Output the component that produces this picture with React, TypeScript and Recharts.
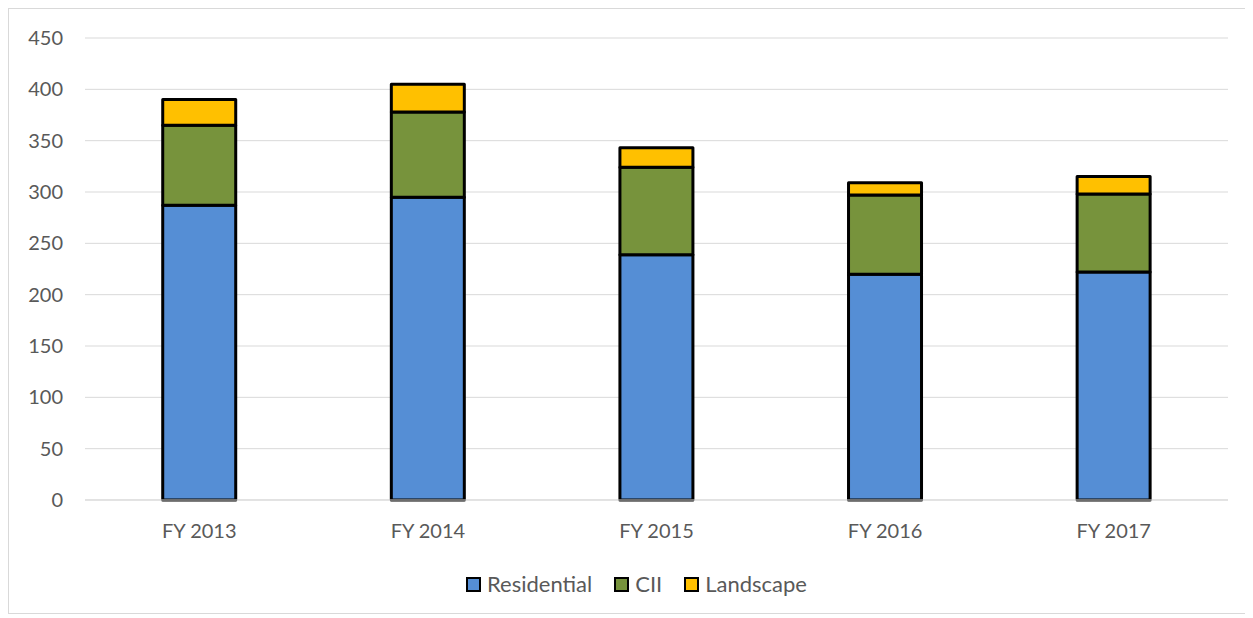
import { BarChart, Bar, XAxis, YAxis, CartesianGrid, Legend } from 'recharts';

const years = ['FY 2013', 'FY 2014', 'FY 2015', 'FY 2016', 'FY 2017'];
const residential = [287, 295, 239, 220, 222];
const cii = [78, 83, 85, 77, 76];
const landscape = [25, 27, 19, 12, 17];
const yTicks = [0, 50, 100, 150, 200, 250, 300, 350, 400, 450];

const series = [
  { key: 'Residential', color: '#558ed5' },
  { key: 'CII', color: '#77933c' },
  { key: 'Landscape', color: '#ffc000' },
];

const data = years.map((y, i) => ({
  year: y,
  Residential: residential[i],
  CII: cii[i],
  Landscape: landscape[i],
}));

const font = 'Lato, "Liberation Sans", sans-serif';

function LegendBox() {
  return (
    <div style={{ display: 'flex', justifyContent: 'center', gap: 22, paddingTop: 21, paddingLeft: 36, fontFamily: font, fontSize: 22, color: '#595959', lineHeight: '26px' }}>
      {series.map(s => (
        <div key={s.key} style={{ display: 'flex', alignItems: 'center' }}>
          <span style={{ width: 11, height: 11, background: s.color, border: '2.5px solid #000', marginRight: 6 }} />
          <span>{s.key}</span>
        </div>
      ))}
    </div>
  );
}

export default function App() {
  return (
    <div style={{ width: 1237, height: 604, border: '1px solid #d9d9d9', background: '#fff' }}>
      <BarChart
        width={1235}
        height={602}
        data={data}
        barCategoryGap="34%"
        margin={{ top: 29, right: 16, left: 0, bottom: 0 }}
      >
        <CartesianGrid vertical={false} stroke="#d9d9d9" />
        <XAxis
          dataKey="year"
          height={50}
          tick={{ fontSize: 20, fill: '#595959', fontFamily: font }}
          tickLine={false}
          axisLine={{ stroke: '#d9d9d9' }}
          tickMargin={18}
        />
        <YAxis
          width={76}
          domain={[0, 450]}
          ticks={yTicks}
          tick={{ fontSize: 20, fill: '#595959', fontFamily: font }}
          tickLine={false}
          axisLine={false}
          tickSize={0}
          tickMargin={22}
        />
        <Legend verticalAlign="bottom" height={61} content={() => <LegendBox />} />
        {series.map(s => (
          <Bar
            key={s.key}
            dataKey={s.key}
            stackId="a"
            fill={s.color}
            stroke="#000"
            strokeWidth={3}
            strokeLinejoin="round"
            isAnimationActive={false}
          />
        ))}
      </BarChart>
    </div>
  );
}
